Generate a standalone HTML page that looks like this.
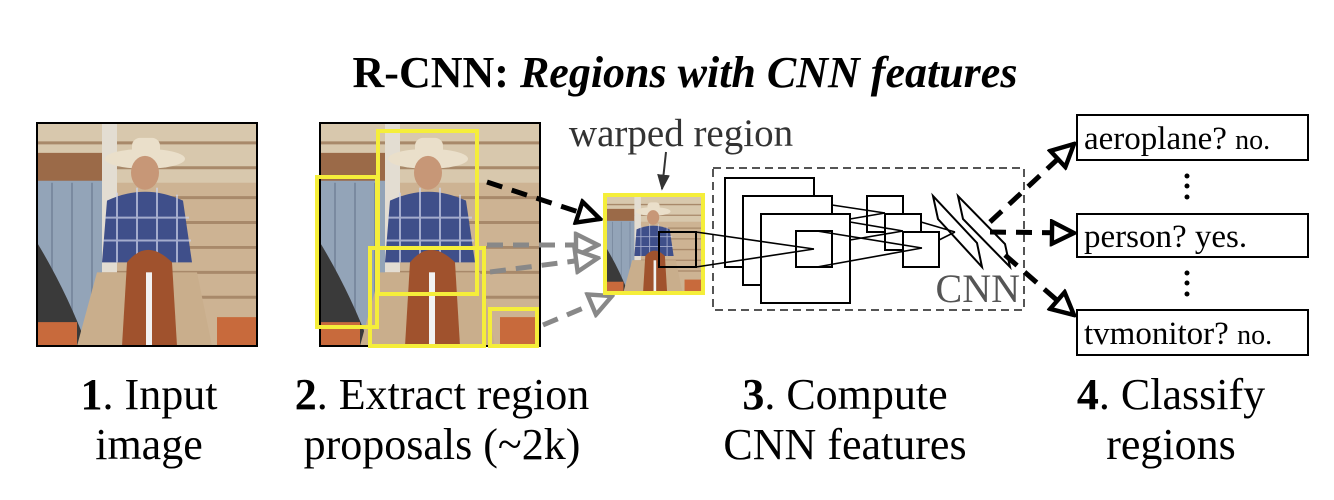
<!DOCTYPE html>
<html><head><meta charset="utf-8"><style>
html,body{margin:0;padding:0;background:#fff;}
#wrap{position:relative;width:1334px;height:500px;overflow:hidden;}
svg{display:block;position:absolute;left:0;top:0;}
.t{position:absolute;font-family:"Times New Roman","Liberation Serif","DejaVu Serif","Noto Serif CJK SC",serif;white-space:nowrap;color:#000;}
.c{text-align:center;font-size:44px;line-height:50px;width:400px;}
.lab{font-size:33px;line-height:40px;left:1084px;}
.lab span{font-size:28px;}
</style></head><body><div id="wrap">
<svg width="1334" height="500" viewBox="0 0 1334 500" xmlns="http://www.w3.org/2000/svg">
<defs>
<symbol id="photo" viewBox="0 0 220 224" preserveAspectRatio="none">
  <rect x="0" y="0" width="220" height="224" fill="#cdb393"/>
  <rect x="0" y="0" width="220" height="60" fill="#d8c8ad"/>
  <g stroke="#a8896a" stroke-width="3">
    <line x1="0" y1="20" x2="220" y2="20"/><line x1="0" y1="45" x2="220" y2="45"/>
    <line x1="60" y1="75" x2="220" y2="75"/><line x1="60" y1="100" x2="220" y2="100"/>
    <line x1="60" y1="125" x2="220" y2="125"/><line x1="60" y1="150" x2="220" y2="150"/>
    <line x1="60" y1="175" x2="220" y2="175"/>
  </g>
  <rect x="0" y="30" width="65" height="30" fill="#9b6a48"/>
  <rect x="65" y="0" width="15" height="150" fill="#e3ddd2"/>
  <rect x="0" y="58" width="65" height="150" fill="#93a4b8"/>
  <g stroke="#7a8aa0" stroke-width="2"><line x1="15" y1="60" x2="15" y2="200"/><line x1="35" y1="60" x2="35" y2="200"/><line x1="55" y1="60" x2="55" y2="200"/></g>
  <path d="M0 120 Q30 170 50 224 L0 224Z" fill="#3a3a3a"/>
  <ellipse cx="108" cy="36" rx="40" ry="10" fill="#eadfca"/>
  <rect x="95" y="15" width="28" height="22" rx="8" fill="#eadfca"/>
  <ellipse cx="108" cy="50" rx="14" ry="17" fill="#c79777"/>
  <path d="M70 78 Q108 60 146 78 L155 140 L65 140Z" fill="#3f4f8a"/>
  <g stroke="#cfd4ea" stroke-width="2" opacity="0.7"><line x1="80" y1="70" x2="80" y2="140"/><line x1="100" y1="65" x2="100" y2="140"/><line x1="120" y1="65" x2="120" y2="140"/><line x1="140" y1="72" x2="140" y2="140"/><line x1="68" y1="95" x2="152" y2="95"/><line x1="66" y1="118" x2="154" y2="118"/></g>
  <path d="M40 224 L60 150 L160 150 L175 224Z" fill="#c9ae8c"/>
  <path d="M85 224 L90 140 Q110 115 135 140 L140 224Z" fill="#a0522d"/>
  <rect x="109" y="150" width="6" height="74" fill="#f2f2f2"/>
  <rect x="0" y="200" width="40" height="24" fill="#c86a3c"/>
  <rect x="180" y="195" width="40" height="29" fill="#c86a3c"/>
</symbol>
<marker id="hb" viewBox="0 0 10 10" refX="9" refY="5" markerWidth="5.5" markerHeight="5.5" orient="auto"><path d="M1 1 L9 5 L1 9Z" fill="#fff" stroke="#000" stroke-width="1.6"/></marker>
<marker id="hg" viewBox="0 0 10 10" refX="9" refY="5" markerWidth="5.5" markerHeight="5.5" orient="auto"><path d="M1 1 L9 5 L1 9Z" fill="#fff" stroke="#888" stroke-width="1.6"/></marker>
<marker id="ha" viewBox="0 0 10 10" refX="9" refY="5" markerWidth="8" markerHeight="8" orient="auto"><path d="M0 1 L10 5 L0 9Z" fill="#333"/></marker>
</defs>

<use href="#photo" x="37" y="123" width="220" height="223"/>
<rect x="37" y="123" width="220" height="223" fill="none" stroke="#000" stroke-width="2"/>
<use href="#photo" x="320" y="123" width="220" height="223"/>
<rect x="320" y="123" width="220" height="223" fill="none" stroke="#000" stroke-width="2"/>
<g fill="none" stroke="#f5ee3a" stroke-width="4">
  <rect x="317" y="177" width="60" height="150"/>
  <rect x="378" y="131" width="99" height="163"/>
  <rect x="370" y="248" width="114" height="98"/>
  <rect x="490" y="309" width="47" height="37"/>
</g>

<line x1="487" y1="182" x2="600" y2="219" stroke="#000" stroke-width="5" stroke-dasharray="16,10" marker-end="url(#hb)"/>
<line x1="487" y1="245" x2="598" y2="245" stroke="#888" stroke-width="5" stroke-dasharray="16,10" marker-end="url(#hg)"/>
<line x1="490" y1="272" x2="598" y2="258" stroke="#888" stroke-width="5" stroke-dasharray="16,10" marker-end="url(#hg)"/>
<line x1="543" y1="325" x2="612" y2="296" stroke="#888" stroke-width="5" stroke-dasharray="16,10" marker-end="url(#hg)"/>

<line x1="666" y1="152" x2="662" y2="189" stroke="#333" stroke-width="2" marker-end="url(#ha)"/>
<use href="#photo" x="606" y="196" width="96" height="96"/>
<rect x="605" y="195" width="98" height="98" fill="none" stroke="#f5ee3a" stroke-width="4"/>
<rect x="659" y="232" width="37" height="35" fill="none" stroke="#000" stroke-width="2"/>

<rect x="713" y="168" width="311" height="142" fill="none" stroke="#555" stroke-width="2" stroke-dasharray="8,5"/>
<g fill="#fff" stroke="#000" stroke-width="2">
  <rect x="725" y="178" width="89" height="89"/>
  <rect x="743" y="196" width="89" height="89"/>
  <rect x="761" y="214" width="89" height="89"/>
  <rect x="796" y="231" width="36" height="36"/>
  <rect x="867" y="196" width="36" height="36"/>
  <rect x="885" y="214" width="36" height="36"/>
  <rect x="903" y="232" width="36" height="35"/>
  <path d="M933 196 L938 219 L982 267 L977 243Z"/>
  <path d="M958 196 L963 219 L1010 267 L1005 244Z"/>
</g>
<g stroke="#000" stroke-width="1.6" fill="none">
  <line x1="696" y1="232" x2="814" y2="249"/><line x1="696" y1="267" x2="814" y2="249"/>
  <line x1="817" y1="231" x2="922" y2="248"/><line x1="817" y1="267" x2="922" y2="248"/>
  <line x1="832" y1="205" x2="885" y2="213"/><line x1="850" y1="219" x2="885" y2="213"/>
  <line x1="850" y1="222" x2="903" y2="231"/><line x1="850" y1="240" x2="903" y2="231"/>
  <line x1="921" y1="222" x2="955" y2="232"/><line x1="939" y1="240" x2="955" y2="232"/>
</g>

<line x1="990" y1="222" x2="1074" y2="144" stroke="#000" stroke-width="5" stroke-dasharray="16,10" marker-end="url(#hb)"/>
<line x1="990" y1="232" x2="1074" y2="233" stroke="#000" stroke-width="5" stroke-dasharray="16,10" marker-end="url(#hb)"/>
<line x1="1005" y1="255" x2="1074" y2="315" stroke="#000" stroke-width="5" stroke-dasharray="16,10" marker-end="url(#hb)"/>

<g fill="#fff" stroke="#000" stroke-width="2">
  <rect x="1077" y="115" width="231" height="45"/>
  <rect x="1077" y="214" width="231" height="43"/>
  <rect x="1077" y="310" width="231" height="45"/>
</g>
<g fill="#000">
  <circle cx="1187" cy="176" r="2.5"/><circle cx="1187" cy="186" r="2.5"/><circle cx="1187" cy="197" r="2.5"/>
  <circle cx="1187" cy="273" r="2.5"/><circle cx="1187" cy="283" r="2.5"/><circle cx="1187" cy="294" r="2.5"/>
</g>
</svg>

<div class="t" style="left:0;width:1370px;text-align:center;top:48px;font-size:44px;line-height:50px;font-weight:bold;">R-CNN: <i>Regions with CNN features</i></div>
<div class="t" style="left:481px;width:400px;text-align:center;top:112px;font-size:39px;line-height:44px;color:#333;">warped region</div>
<div class="t" style="left:820px;width:200px;text-align:right;top:266px;font-size:40px;line-height:46px;color:#555;">CNN</div>

<div class="t lab" style="top:119px;">aeroplane? <span>no.</span></div>
<div class="t lab" style="top:217px;">person? yes.</div>
<div class="t lab" style="top:314px;">tvmonitor? <span>no.</span></div>

<div class="t c" style="left:-51px;top:370px;"><b>1</b>. Input<br>image</div>
<div class="t c" style="left:242px;top:370px;"><b>2</b>. Extract region<br>proposals (~2k)</div>
<div class="t c" style="left:645px;top:370px;"><b>3</b>. Compute<br>CNN features</div>
<div class="t c" style="left:971px;top:370px;"><b>4</b>. Classify<br>regions</div>
</div></body></html>
